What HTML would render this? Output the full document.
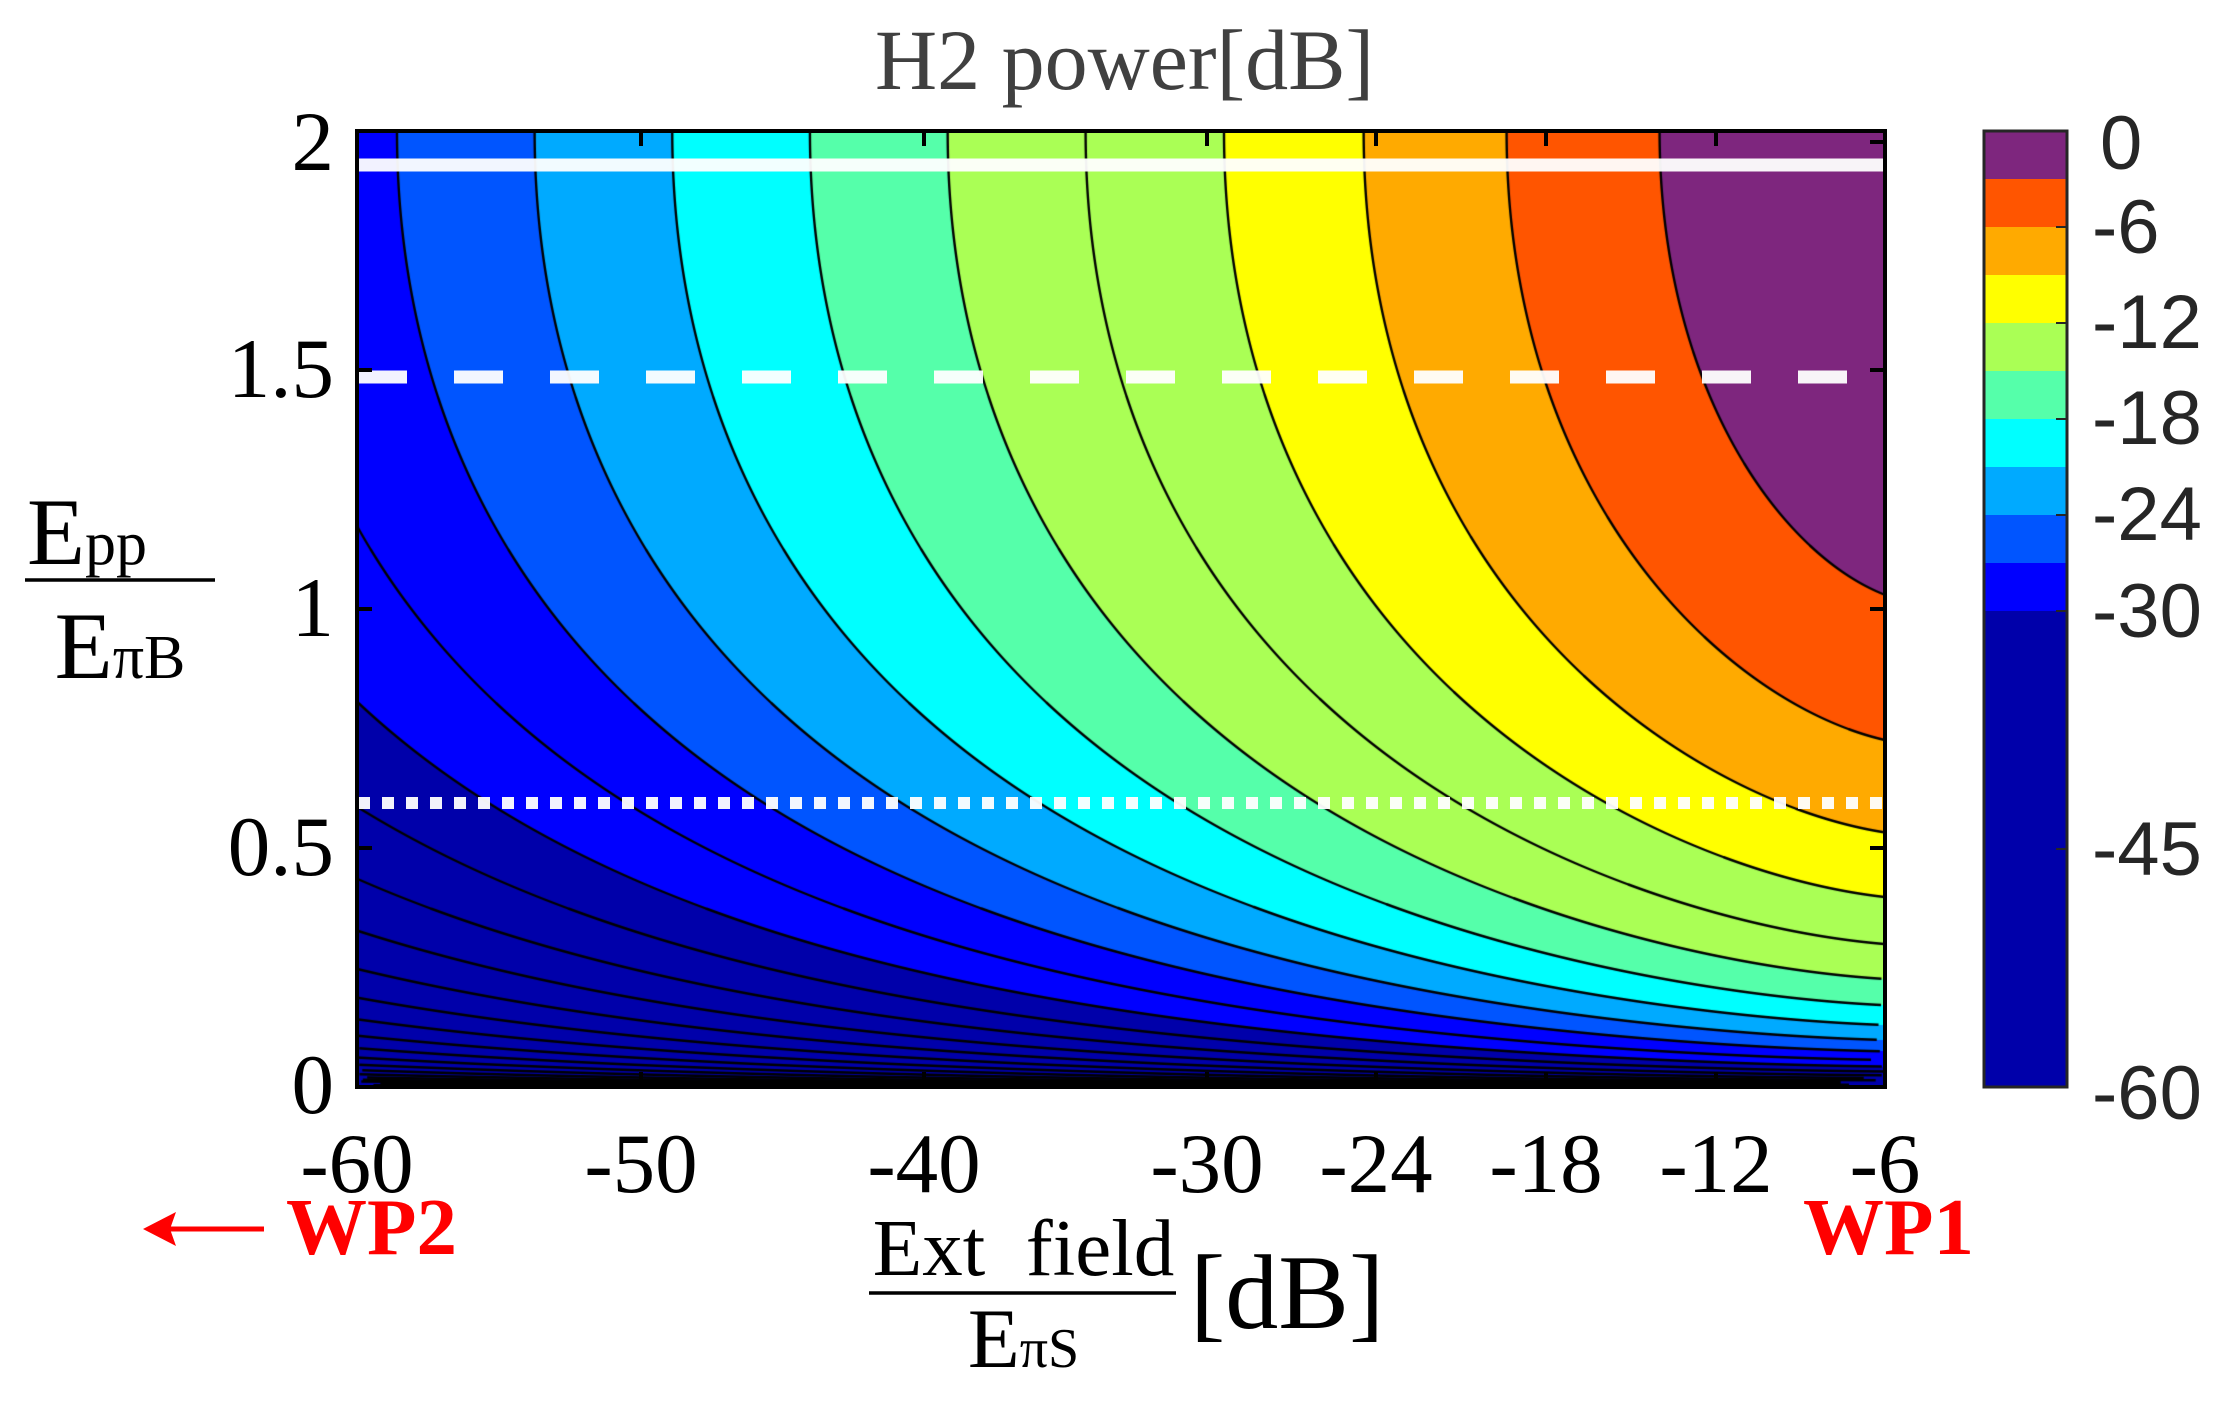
<!DOCTYPE html>
<html><head><meta charset="utf-8"><style>
html,body{margin:0;padding:0;background:#fff;}
body{width:2232px;height:1404px;position:relative;overflow:hidden;}
.t{position:absolute;font-family:"Liberation Serif",serif;color:#000;white-space:nowrap;line-height:1;}
.s{position:absolute;font-family:"Liberation Sans",sans-serif;color:#262626;white-space:nowrap;line-height:1;font-size:76px;}
</style></head><body>
<canvas id="c" width="1528" height="956" style="position:absolute;left:357px;top:131px;"></canvas>
<svg width="2232" height="1404" style="position:absolute;left:0;top:0;" xmlns="http://www.w3.org/2000/svg">
 <line x1="357" y1="165" x2="1885" y2="165" stroke="#fff" stroke-opacity="0.95" stroke-width="13"/>
 <line x1="358" y1="377" x2="1885" y2="377" stroke="#fff" stroke-opacity="0.95" stroke-width="13" stroke-dasharray="49 47"/>
 <line x1="358" y1="803" x2="1885" y2="803" stroke="#fff" stroke-opacity="0.95" stroke-width="12" stroke-dasharray="12 12"/>
 <rect x="357" y="131" width="1528" height="956" fill="none" stroke="#000" stroke-width="4"/>
 <g stroke="#000" stroke-width="4">
  <line x1="357" y1="131" x2="357" y2="146"/><line x1="641" y1="131" x2="641" y2="146"/><line x1="924" y1="131" x2="924" y2="146"/><line x1="1207" y1="131" x2="1207" y2="146"/><line x1="1376" y1="131" x2="1376" y2="146"/><line x1="1546" y1="131" x2="1546" y2="146"/><line x1="1716" y1="131" x2="1716" y2="146"/>
  <line x1="357" y1="1072" x2="357" y2="1087"/><line x1="641" y1="1072" x2="641" y2="1087"/><line x1="924" y1="1072" x2="924" y2="1087"/><line x1="1207" y1="1072" x2="1207" y2="1087"/><line x1="1376" y1="1072" x2="1376" y2="1087"/><line x1="1546" y1="1072" x2="1546" y2="1087"/><line x1="1716" y1="1072" x2="1716" y2="1087"/>
  <line x1="357" y1="131" x2="372" y2="131"/><line x1="357" y1="370" x2="372" y2="370"/><line x1="357" y1="609" x2="372" y2="609"/><line x1="357" y1="848" x2="372" y2="848"/>
  <line x1="1870" y1="142" x2="1885" y2="142"/><line x1="1870" y1="370" x2="1885" y2="370"/><line x1="1870" y1="609" x2="1885" y2="609"/><line x1="1870" y1="848" x2="1885" y2="848"/>
 </g>
 <g>
  <rect x="1984" y="131" width="83" height="48" fill="#7E267E"/>
  <rect x="1984" y="179" width="83" height="48" fill="#FF5500"/>
  <rect x="1984" y="227" width="83" height="48" fill="#FFAA00"/>
  <rect x="1984" y="275" width="83" height="48" fill="#FFFF00"/>
  <rect x="1984" y="323" width="83" height="48" fill="#AAFF55"/>
  <rect x="1984" y="371" width="83" height="48" fill="#55FFAA"/>
  <rect x="1984" y="419" width="83" height="48" fill="#00FFFF"/>
  <rect x="1984" y="467" width="83" height="48" fill="#00AAFF"/>
  <rect x="1984" y="515" width="83" height="48" fill="#0055FF"/>
  <rect x="1984" y="563" width="83" height="48" fill="#0000FF"/>
  <rect x="1984" y="611" width="83" height="476" fill="#0000AA"/>
  <rect x="1984" y="131" width="83" height="956" fill="none" stroke="#262626" stroke-width="3"/>
  <g stroke="#262626" stroke-width="2">
   <line x1="2056" y1="227" x2="2067" y2="227"/><line x1="2056" y1="323" x2="2067" y2="323"/><line x1="2056" y1="419" x2="2067" y2="419"/><line x1="2056" y1="515" x2="2067" y2="515"/><line x1="2056" y1="611" x2="2067" y2="611"/><line x1="2056" y1="849" x2="2067" y2="849"/>
  </g>
 </g>
 <g stroke="#ff0000" stroke-width="5" fill="#ff0000">
  <line x1="160" y1="1229" x2="264" y2="1229"/>
  <polygon points="143,1229 176,1212 170,1229 176,1246" stroke="none"/>
 </g>
 <line x1="869" y1="1293" x2="1176" y2="1293" stroke="#000" stroke-width="3.5"/>
 <line x1="25" y1="580" x2="215" y2="580" stroke="#000" stroke-width="3.5"/>
</svg>
<!-- title -->
<div class="t" style="left:875px;top:17px;font-size:86px;color:#404040;">H2 power[dB]</div>
<!-- y tick labels -->
<div class="t" style="left:200px;top:100px;width:134px;text-align:right;font-size:85px;">2</div>
<div class="t" style="left:200px;top:327px;width:134px;text-align:right;font-size:85px;">1.5</div>
<div class="t" style="left:200px;top:566px;width:134px;text-align:right;font-size:85px;">1</div>
<div class="t" style="left:200px;top:805px;width:134px;text-align:right;font-size:85px;">0.5</div>
<div class="t" style="left:200px;top:1043px;width:134px;text-align:right;font-size:85px;">0</div>
<!-- x tick labels -->
<div class="t" style="left:257px;top:1122px;width:200px;text-align:center;font-size:85px;">-60</div>
<div class="t" style="left:541px;top:1122px;width:200px;text-align:center;font-size:85px;">-50</div>
<div class="t" style="left:824px;top:1122px;width:200px;text-align:center;font-size:85px;">-40</div>
<div class="t" style="left:1107px;top:1122px;width:200px;text-align:center;font-size:85px;">-30</div>
<div class="t" style="left:1276px;top:1122px;width:200px;text-align:center;font-size:85px;">-24</div>
<div class="t" style="left:1446px;top:1122px;width:200px;text-align:center;font-size:85px;">-18</div>
<div class="t" style="left:1616px;top:1122px;width:200px;text-align:center;font-size:85px;">-12</div>
<div class="t" style="left:1785px;top:1122px;width:200px;text-align:center;font-size:85px;">-6</div>
<!-- WP labels -->
<div class="t" style="left:286px;top:1187px;font-size:81px;font-weight:bold;color:#ff0000;">WP2</div>
<div class="t" style="left:1803px;top:1187px;font-size:81px;font-weight:bold;color:#ff0000;">WP1</div>
<!-- x label -->
<div class="t" style="left:851px;top:1208px;width:345px;text-align:center;font-size:81px;">Ext&nbsp;&nbsp;field</div>
<div class="t" style="left:851px;top:1297px;width:345px;text-align:center;font-size:85px;">E<span style="font-size:56px;">πS</span></div>
<div class="t" style="left:1190px;top:1240px;font-size:106px;">[dB]</div>
<!-- y label -->
<div class="t" style="left:27px;top:485px;font-size:95px;">E<span style="font-size:62px;">pp</span></div>
<div class="t" style="left:20px;top:599px;width:200px;text-align:center;font-size:95px;">E<span style="font-size:62px;">πB</span></div>
<!-- colorbar labels -->
<div class="s" style="left:2100px;top:106px;">0</div>
<div class="s" style="left:2092px;top:190px;">-6</div>
<div class="s" style="left:2092px;top:285px;">-12</div>
<div class="s" style="left:2092px;top:381px;">-18</div>
<div class="s" style="left:2092px;top:477px;">-24</div>
<div class="s" style="left:2092px;top:574px;">-30</div>
<div class="s" style="left:2092px;top:812px;">-45</div>
<div class="s" style="left:2092px;top:1056px;">-60</div>
<script>
(function(){
var L=357,R=1885,T=131,B=1087,W=R-L,H=B-T;
var e0=Math.exp((397-1885)/150);
function h(x){return -30+0.0218*(x-397)-0.0157*150*(Math.exp((x-1885)/150)-e0);}
var hmin=h(L),hmax=h(R);
function hinv(v){if(v<hmin||v>hmax)return null;var a=L,b=R;for(var k=0;k<40;k++){var m=(a+b)/2;if(h(m)<v)a=m;else b=m;}return (a+b)/2;}
function g(E){if(E<1e-5)E=1e-5;return (1.23-0.13*E)*20*Math.log10(Math.sin(Math.PI*E/4));}
function col(P){
 if(P>-3)return[126,38,126];if(P>-6)return[255,85,0];if(P>-9)return[255,170,0];if(P>-12)return[255,255,0];
 if(P>-18)return[170,255,85];if(P>-21)return[85,255,170];if(P>-24)return[0,255,255];if(P>-27)return[0,170,255];
 if(P>-30)return[0,85,255];if(P>-36)return[0,0,255];return[0,0,170];}
var c=document.getElementById('c'),ctx=c.getContext('2d');
var img=ctx.createImageData(W,H),d=img.data;
var hc=[];for(var i=0;i<W;i++)hc.push(h(L+i+0.5));
for(var j=0;j<H;j++){var E=(H-j-0.5)/H*2;var gv=g(E);
 for(var i=0;i<W;i++){var k=(j*W+i)*4;var cc=col(hc[i]+gv);d[k]=cc[0];d[k+1]=cc[1];d[k+2]=cc[2];d[k+3]=255;}}
ctx.putImageData(img,0,0);
ctx.strokeStyle='#000';ctx.lineWidth=2.4;ctx.lineJoin='round';
for(var lv=-3;lv>=-150;lv-=3){
 ctx.beginPath();var started=false;
 for(var j=0;j<=H*4;j++){var y=j/4;var E=(H-y)/H*2;var x=hinv(lv-g(E));
  if(x===null){started=false;continue;}
  if(!started){ctx.moveTo(x-L,y);started=true;}else ctx.lineTo(x-L,y);}
 ctx.stroke();}
})();
</script>
</body></html>
